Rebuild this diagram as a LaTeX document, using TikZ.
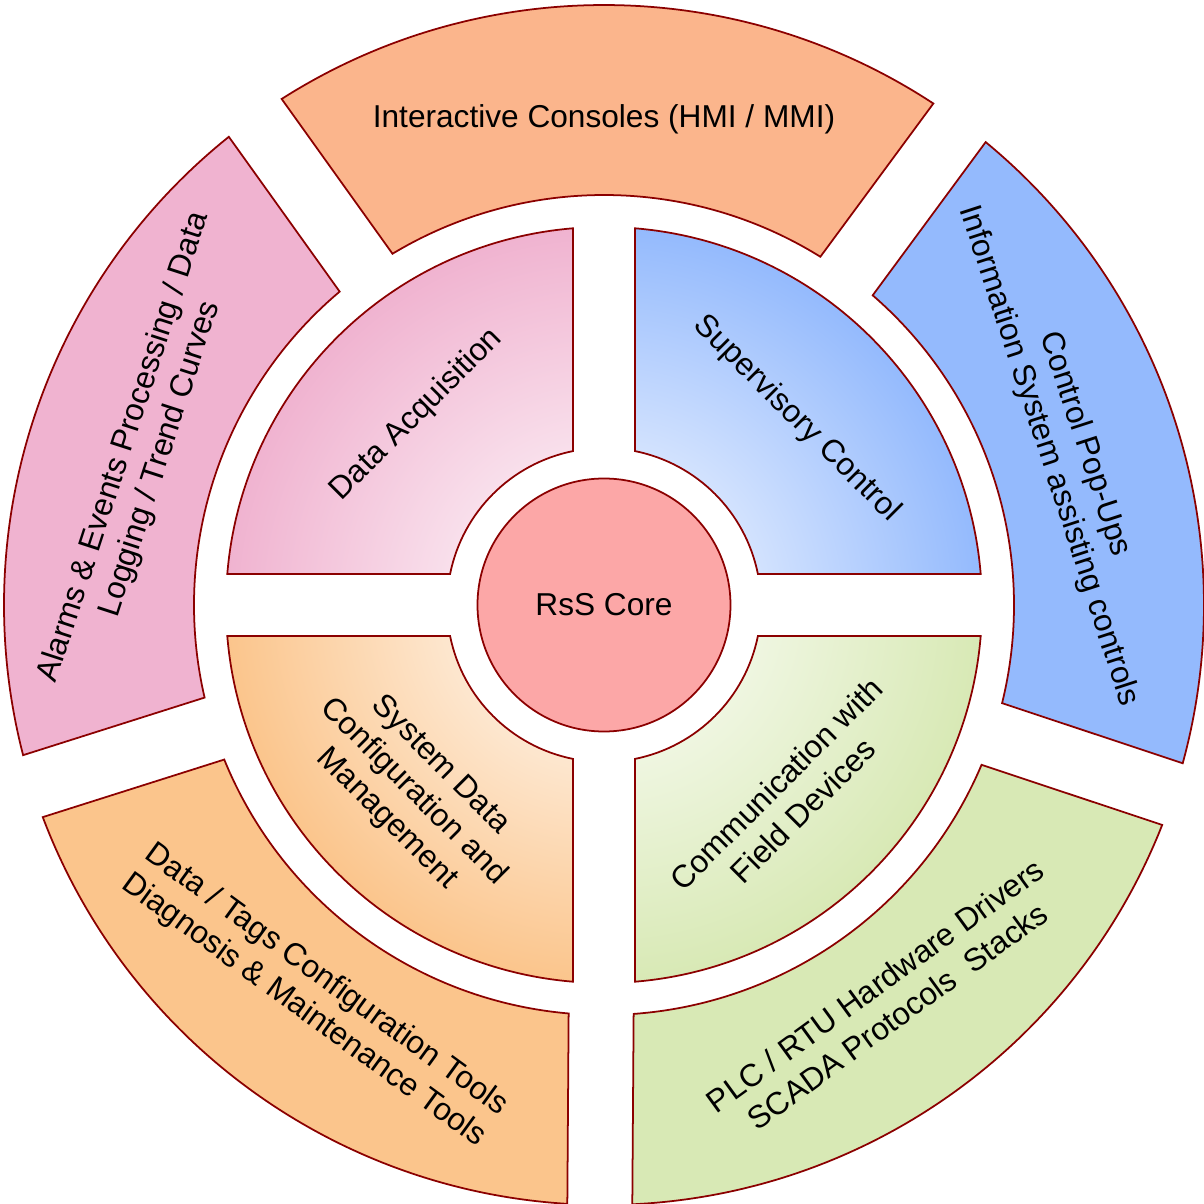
\documentclass[tikz,border=0pt]{standalone}
\usepackage{fontspec}
\setmainfont{Liberation Sans}
\usepackage{xcolor}
\usetikzlibrary{positioning}
\definecolor{rimred}{RGB}{139,0,0}
\definecolor{corefill}{RGB}{252,167,167}
\definecolor{consfill}{RGB}{251,181,140}
\definecolor{pinkfill}{RGB}{240,179,208}
\definecolor{bluefill}{RGB}{148,186,253}
\definecolor{orangefill}{RGB}{251,197,140}
\definecolor{greenfill}{RGB}{216,233,181}

\begin{document}
\begin{tikzpicture}[
		rim/.style = {draw = rimred, line width = 0.5pt},
		ringtext/.style = {font = \fontsize{9}{10.8}\selectfont, align = center, inner sep = 0pt},
		petal/.style = {rim, path picture = {\shade[inner color = white, outer color = #1] (0,0) circle (3.78);}}
		]
\useasboundingbox (-6.04,-5.99) rectangle (5.99,6.05);

\draw[rim, fill = consfill] (56.705:6) arc[start angle = 56.705, end angle = 122.495, radius = 6] -- (121.053:4.1) arc[start angle = 121.053, end angle = 58.147, radius = 4.1] -- cycle;
\draw[rim, fill = pinkfill] (128.705:6) arc[start angle = 128.705, end angle = 194.495, radius = 6] -- (193.053:4.1) arc[start angle = 193.053, end angle = 130.147, radius = 4.1] -- cycle;
\draw[rim, fill = orangefill] (200.705:6) arc[start angle = 200.705, end angle = 266.495, radius = 6] -- (265.053:4.1) arc[start angle = 265.053, end angle = 202.147, radius = 4.1] -- cycle;
\draw[rim, fill = greenfill] (272.705:6) arc[start angle = 272.705, end angle = 338.495, radius = 6] -- (337.053:4.1) arc[start angle = 337.053, end angle = 274.147, radius = 4.1] -- cycle;
\draw[rim, fill = bluefill] (-15.295:6) arc[start angle = -15.295, end angle = 50.495, radius = 6] -- (49.053:4.1) arc[start angle = 49.053, end angle = -13.853, radius = 4.1] -- cycle;

\draw[petal = bluefill] (4.704:3.78) arc[start angle = 4.704, end angle = 85.296, radius = 3.78] -- (78.612:1.57) arc[start angle = 78.612, end angle = 11.388, radius = 1.57] -- cycle;
\draw[petal = pinkfill] (94.704:3.78) arc[start angle = 94.704, end angle = 175.296, radius = 3.78] -- (168.612:1.57) arc[start angle = 168.612, end angle = 101.388, radius = 1.57] -- cycle;
\draw[petal = orangefill] (184.704:3.78) arc[start angle = 184.704, end angle = 265.296, radius = 3.78] -- (258.612:1.57) arc[start angle = 258.612, end angle = 191.388, radius = 1.57] -- cycle;
\draw[petal = greenfill] (274.704:3.78) arc[start angle = 274.704, end angle = 355.296, radius = 3.78] -- (348.612:1.57) arc[start angle = 348.612, end angle = 281.388, radius = 1.57] -- cycle;

\node[circle, rim, fill = corefill, minimum size = 2.53cm, ringtext] (core) at (0,0) {RsS Core};

\node[ringtext] (consoles) at (90:4.86) {Interactive Consoles (HMI / MMI)};
\node[ringtext, rotate = 72] (alarms) at (161.8:4.86) {Alarms \& Events Processing / Data\\Logging / Trend Curves};
\node[ringtext, rotate = -72] (popups) at (18.5:4.88) {Control Pop-Ups\\Information System assisting controls};
\node[ringtext, rotate = 36] (drivers) at (-54.5:4.86) {PLC / RTU Hardware Drivers\\SCADA Protocols\ \ Stacks};
\node[ringtext, rotate = -36] (tagtools) at (233.5:4.86) {Data / Tags Configuration Tools\\Diagnosis \& Maintenance Tools};

\node[ringtext, rotate = 45] (acquis) at (134.5:2.67) {Data Acquisition};
\node[ringtext, rotate = -45] (superv) at (44:2.68) {Supervisory Control};
\node[ringtext, rotate = -45] (sysdata) at (224.5:2.67) {System Data\\Configuration and\\Management};
\node[ringtext, rotate = 45] (fieldcom) at (-46:2.67) {Communication with\\Field Devices};

\end{tikzpicture}
\end{document}
